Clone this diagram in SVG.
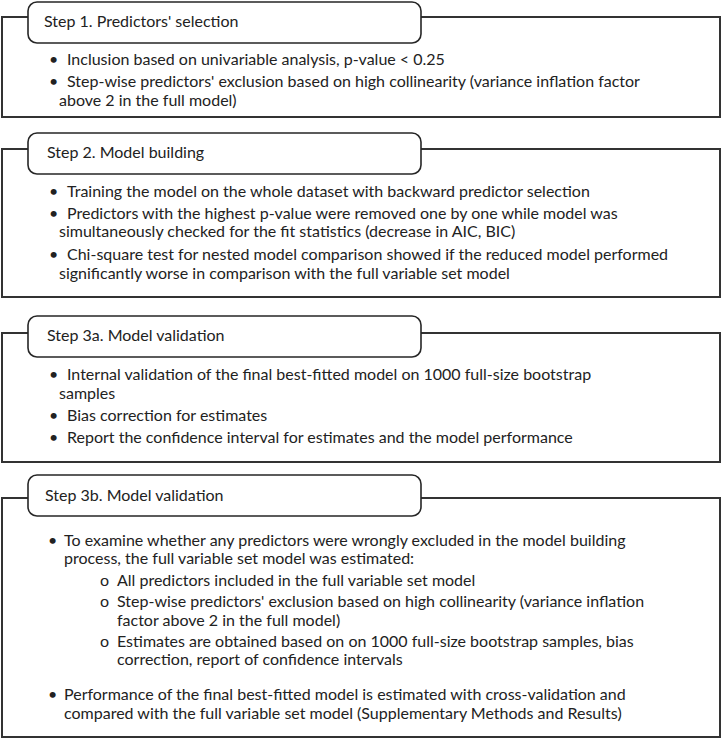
<svg xmlns="http://www.w3.org/2000/svg" width="722" height="739" viewBox="0 0 722 739">
<style>
.outer{fill:#fff;stroke:#333;stroke-width:2}
.tab{fill:#fff;stroke:#262626;stroke-width:1.6}
text{font-family:Lato,"Open Sans",sans-serif;font-size:16px;fill:#222}
.title{font-size:16px}
</style>
<rect width="722" height="739" fill="#fff"/>
<g id="step1">
<rect class="outer" x="2" y="17" width="718" height="100"/>
<rect class="tab" x="28" y="2" width="393" height="41" rx="9"/>
<text class="title" x="44" y="27">Step 1. Predictors' selection</text>
<text x="49" y="65">•</text><text x="67" y="65">Inclusion based on univariable analysis, p-value &lt; 0.25</text>
<text x="49" y="87">•</text><text x="67" y="87">Step-wise predictors' exclusion based on high collinearity (variance inflation factor</text>
<text x="59" y="106">above 2 in the full model)</text>
</g>
<g id="step2">
<rect class="outer" x="2" y="149" width="718" height="148"/>
<rect class="tab" x="28" y="133" width="393" height="41" rx="9"/>
<text class="title" x="47" y="158">Step 2. Model building</text>
<text x="49" y="197">•</text><text x="67" y="197">Training the model on the whole dataset with backward predictor selection</text>
<text x="49" y="219">•</text><text x="67" y="219">Predictors with the highest p-value were removed one by one while model was</text>
<text x="59" y="237">simultaneously checked for the fit statistics (decrease in AIC, BIC)</text>
<text x="49" y="260">•</text><text x="67" y="260">Chi-square test for nested model comparison showed if the reduced model performed</text>
<text x="59" y="279">significantly worse in comparison with the full variable set model</text>
</g>
<g id="step3a">
<rect class="outer" x="2" y="333" width="718" height="129"/>
<rect class="tab" x="28" y="316" width="393" height="41" rx="9"/>
<text class="title" x="47" y="341">Step 3a. Model validation</text>
<text x="49" y="380">•</text><text x="67" y="380">Internal validation of the final best-fitted model on 1000 full-size bootstrap</text>
<text x="59" y="399">samples</text>
<text x="49" y="421">•</text><text x="67" y="421">Bias correction for estimates</text>
<text x="49" y="443">•</text><text x="67" y="443">Report the confidence interval for estimates and the model performance</text>
</g>
<g id="step3b">
<rect class="outer" x="2" y="498" width="718" height="239"/>
<rect class="tab" x="28" y="475" width="393" height="41" rx="9"/>
<text class="title" x="45" y="501">Step 3b. Model validation</text>
<text x="48" y="546">•</text><text x="64" y="546">To examine whether any predictors were wrongly excluded in the model building</text>
<text x="64" y="564">process, the full variable set model was estimated:</text>
<text x="100" y="586">o</text><text x="117" y="586">All predictors included in the full variable set model</text>
<text x="100" y="607">o</text><text x="117" y="607">Step-wise predictors' exclusion based on high collinearity (variance inflation</text>
<text x="117" y="626">factor above 2 in the full model)</text>
<text x="100" y="647">o</text><text x="117" y="647">Estimates are obtained based on on 1000 full-size bootstrap samples, bias</text>
<text x="117" y="665">correction, report of confidence intervals</text>
<text x="48" y="700">•</text><text x="64" y="700">Performance of the final best-fitted model is estimated with cross-validation and</text>
<text x="64" y="719">compared with the full variable set model (Supplementary Methods and Results)</text>
</g>
</svg>
